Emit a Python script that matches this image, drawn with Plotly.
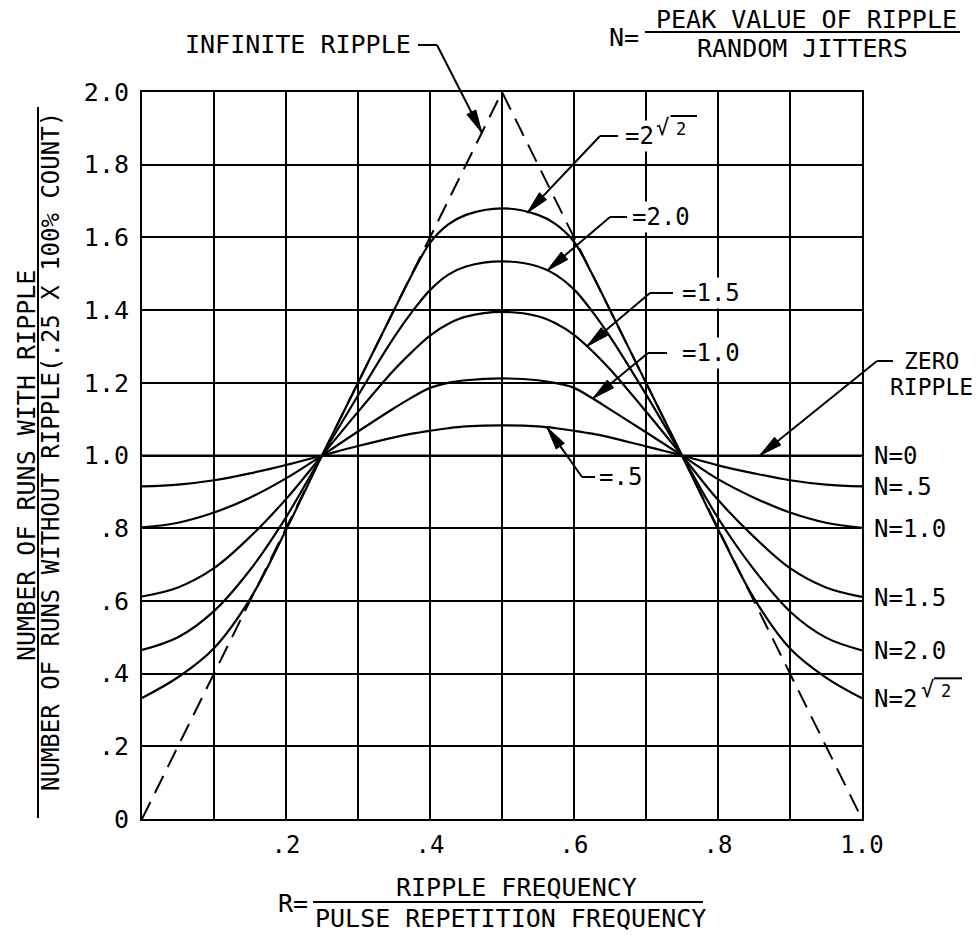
import numpy as np
import plotly.graph_objects as go

# ---------------- data ----------------
r_values = [0, .05, .1, .15, .2, .25, .3, .35, .375, .4, .425, .45, .5,
            .55, .575, .6, .625, .65, .7, .75, .8, .85, .9, .95, 1.0]

n_half = [0.915, 0.920, 0.932, 0.951, 0.974, 1.0, 1.026, 1.050, 1.060, 1.068, 1.075, 1.080, 1.083,
          1.080, 1.075, 1.068, 1.060, 1.050, 1.025, 1.0, 0.973, 0.951, 0.932, 0.920, 0.915]
n_one = [0.802, 0.815, 0.843, 0.884, 0.937, 1.0, 1.066, 1.130, 1.160, 1.186, 1.200, 1.207, 1.212,
         1.207, 1.199, 1.186, 1.158, 1.127, 1.064, 1.0, 0.935, 0.884, 0.843, 0.815, 0.801]
n_one_half = [0.612, 0.637, 0.690, 0.776, 0.880, 1.0, 1.120, 1.235, 1.285, 1.330, 1.362, 1.382, 1.395,
              1.383, 1.363, 1.332, 1.288, 1.237, 1.121, 1.0, 0.878, 0.776, 0.690, 0.637, 0.611]
n_two = [0.465, 0.500, 0.572, 0.685, 0.830, 1.0, 1.165, 1.325, 1.395, 1.455, 1.497, 1.520, 1.534,
         1.520, 1.497, 1.457, 1.397, 1.327, 1.168, 1.0, 0.828, 0.686, 0.571, 0.499, 0.464]
n_two_root2 = [0.333, 0.390, 0.470, 0.605, 0.795, 1.0, 1.200, 1.400, 1.498, 1.585, 1.635, 1.662, 1.680,
               1.662, 1.636, 1.588, 1.500, 1.400, 1.200, 1.0, 0.797, 0.607, 0.469, 0.389, 0.332]

zero_ripple_r = [0.0, 1.0]
zero_ripple_y = [1.0, 1.0]

infinite_r = [0.0, 0.5, 1.0]
infinite_y = [0.0, 2.0, 0.0]

x_tick_vals = [.2, .4, .6, .8, 1.0]
x_tick_text = [".2", ".4", ".6", ".8", "1.0"]
x_minor_grid = [.1, .3, .5, .7, .9]
y_tick_vals = [0, .2, .4, .6, .8, 1.0, 1.2, 1.4, 1.6, 1.8, 2.0]
y_tick_text = ["0", ".2", ".4", ".6", ".8", "1.0", "1.2", "1.4", "1.6", "1.8", "2.0"]

right_labels = ["N=0", "N=.5", "N=1.0", "N=1.5", "N=2.0", "N=2"]

# ---------------- geometry helpers ----------------
L, R, T, B = 142, 862, 92, 819
W, H = 979, 938
FONT = "DejaVu Sans Mono"


def d2px(xd, yd):
    return L + (R - L) * xd, B - (B - T) * yd / 2.0


def px2paper(px, py):
    return (px - L) / (R - L), (B - py) / (B - T)


fig = go.Figure()

curves = [n_half, n_one, n_one_half, n_two, n_two_root2]
for c in curves:
    fig.add_trace(go.Scatter(x=r_values, y=c, mode="lines",
                             line=dict(color="black", width=2.2, shape="spline", smoothing=1.0),
                             hoverinfo="skip"))
fig.add_trace(go.Scatter(x=zero_ripple_r, y=zero_ripple_y, mode="lines",
                         line=dict(color="black", width=2.2), hoverinfo="skip"))
fig.add_trace(go.Scatter(x=infinite_r, y=infinite_y, mode="lines",
                         line=dict(color="black", width=2, dash="19px,10px"), hoverinfo="skip"))

shapes = []
annotations = []


def line_px(x0, y0, x1, y1, w=2):
    a = px2paper(x0, y0)
    b = px2paper(x1, y1)
    shapes.append(dict(type="line", xref="paper", yref="paper", x0=a[0], y0=a[1], x1=b[0], y1=b[1],
                       line=dict(color="black", width=w)))


def arrow_px(tail, tip, length=23, half=5):
    line_px(tail[0], tail[1], tip[0], tip[1])
    dx, dy = tip[0] - tail[0], tip[1] - tail[1]
    n = np.hypot(dx, dy)
    ux, uy = dx / n, dy / n
    bx, by = tip[0] - ux * length, tip[1] - uy * length
    p1 = px2paper(*tip)
    p2 = px2paper(bx - uy * half, by + ux * half)
    p3 = px2paper(bx + uy * half, by - ux * half)
    path = f"M {p1[0]},{p1[1]} L {p2[0]},{p2[1]} L {p3[0]},{p3[1]} Z"
    shapes.append(dict(type="path", xref="paper", yref="paper", path=path,
                       fillcolor="black", line=dict(color="black", width=1)))


def text_px(px, py, text, size=24, xanchor="left", bg=None, angle=0, xshift=0):
    p = px2paper(px, py)
    d = dict(x=p[0], y=p[1], xref="paper", yref="paper", text=text, showarrow=False,
             xanchor=xanchor, yanchor="middle", textangle=angle, xshift=xshift,
             font=dict(family=FONT, size=size, color="black"))
    if bg:
        d.update(bgcolor=bg, borderpad=1)
    annotations.append(d)


def root2_px(px, py, bg=None):
    """superscript 'square root of 2' with its bar, drawn after a base text ending at px."""
    text_px(px, py, "\u221a", size=22, bg=bg, xshift=-3)
    text_px(px + 19, py + 2, "2", size=17, bg=bg, xshift=-2)
    line_px(px + 12, py - 11, px + 40, py - 11)


# leader labels: (curve, tip r, tail px, hook end px, label text, text left px)
leaders = [
    (n_two_root2, 0.535, (600, 136), 618, "=2", 626),
    (n_two, 0.5625, (610, 217), 627, "=2.0", 633),
    (n_one_half, 0.618, (650, 293), 673, "=1.5", 683),
    (n_one, 0.626, (648, 353), 667, "=1.0", 683),
    (n_half, 0.5625, (582, 477), 595, "=.5", 600),
]
for curve, r_tip, tail, hook, label, tx in leaders:
    tip = d2px(r_tip, float(np.interp(r_tip, r_values, curve)))
    arrow_px(tail, tip)
    line_px(tail[0], tail[1], hook, tail[1])
    text_px(tx, tail[1], label, bg="white", xshift=-3)
root2_px(657, 127, bg="white")

# zero ripple
tip = d2px(0.858, float(np.interp(0.858, zero_ripple_r, zero_ripple_y)))
arrow_px((877, 361), tip)
line_px(877, 361, 893, 361)
text_px(931, 361, "ZERO", size=23, xanchor="center")
text_px(931, 387, "RIPPLE", size=23, xanchor="center")

# infinite ripple
tip = d2px(0.472, float(np.interp(0.472, infinite_r, infinite_y)))
arrow_px((437, 45), tip)
line_px(418, 45, 437, 45)
text_px(413, 45, "INFINITE RIPPLE", size=25, xanchor="right")

# right-hand N labels at the end of each curve
ends = [zero_ripple_y[-1]] + [c[-1] for c in curves]
for lab, yv in zip(right_labels, ends):
    px, py = d2px(1.0, yv)
    text_px(875, py + 1, lab, xshift=-3)
root2_px(922, d2px(1.0, n_two_root2[-1])[1] - 9)

# N definition (top right)
text_px(610, 38, "N=", size=25, xshift=-3)
text_px(806, 19, "PEAK VALUE OF RIPPLE", size=25, xanchor="center")
line_px(645, 32, 960, 32)
text_px(802, 48, "RANDOM JITTERS", size=25, xanchor="center")

# x axis title
text_px(293, 903, "R=", size=25, xanchor="center")
text_px(516, 888, "RIPPLE FREQUENCY", size=25, xanchor="center")
line_px(313, 902, 703, 902)
text_px(511, 918, "PULSE REPETITION FREQUENCY", size=25, xanchor="center")

# y axis title
text_px(26, 466, "NUMBER OF RUNS WITH RIPPLE", size=25, xanchor="center", angle=-90)
line_px(38, 107, 38, 818)
text_px(51, 452, "NUMBER OF RUNS WITHOUT RIPPLE(.25 X 100% COUNT)", size=24, xanchor="center", angle=-90)

axis_common = dict(showgrid=True, gridcolor="black", gridwidth=2, showline=True, mirror=True,
                   linecolor="black", linewidth=2, zeroline=False, ticks="")

fig.update_layout(
    width=W, height=H,
    margin=dict(l=L, r=W - R, t=T, b=H - B, autoexpand=False),
    plot_bgcolor="white", paper_bgcolor="white", showlegend=False,
    font=dict(family=FONT, size=24, color="black"),
    xaxis=dict(range=[0, 1], tickvals=x_tick_vals, ticktext=x_tick_text,
               minor=dict(tickvals=x_minor_grid, showgrid=True, gridcolor="black", gridwidth=2, ticks=""),
               ticklabelstandoff=3, tickfont=dict(family=FONT, size=24, color="black"),
               **axis_common),
    yaxis=dict(range=[0, 2], tickvals=y_tick_vals, ticktext=y_tick_text,
               ticklabelstandoff=6, tickfont=dict(family=FONT, size=25, color="black"),
               **axis_common),
    shapes=shapes, annotations=annotations,
)

fig.write_html("out.html", config={"displayModeBar": False},
               post_script="document.body.style.margin='0px';")
